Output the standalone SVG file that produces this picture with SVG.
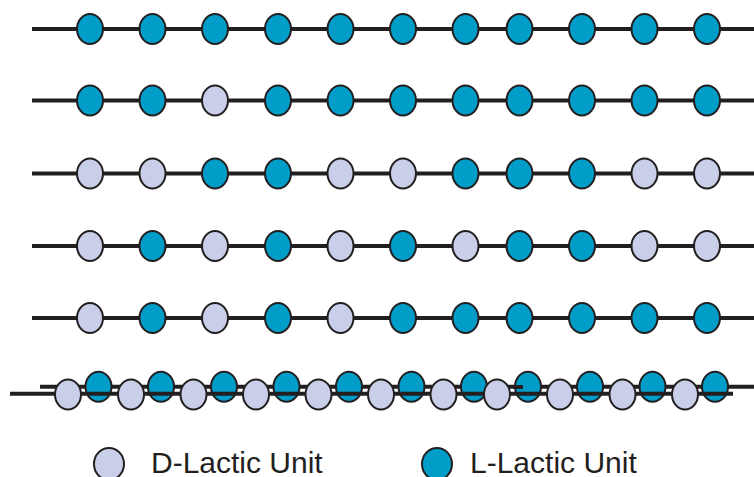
<svg xmlns="http://www.w3.org/2000/svg" width="754" height="477" viewBox="0 0 754 477">
<style>
.ln{stroke:#231f20;stroke-width:4;fill:none}
.L{fill:#009dc9;stroke:#231f20;stroke-width:2}
.D{fill:#c9cfe8;stroke:#231f20;stroke-width:2}
.t{font-family:"Liberation Sans",Arial,sans-serif;font-size:30px;fill:#231f20}
</style>
<rect width="754" height="477" fill="#ffffff"/>
<g id="connectors">
<line class="ln" x1="32" y1="29" x2="754" y2="29"/>
<line class="ln" x1="32" y1="100.5" x2="754" y2="100.5"/>
<line class="ln" x1="32" y1="173.5" x2="754" y2="173.5"/>
<line class="ln" x1="32" y1="246" x2="754" y2="246"/>
<line class="ln" x1="32" y1="318" x2="754" y2="318"/>
<line class="ln" x1="40" y1="386.8" x2="523" y2="386.8"/>
<line class="ln" x1="530" y1="386.8" x2="754" y2="386.8"/>
</g>
<g id="row1">
<g id="r1b1"><ellipse class="L" cx="90" cy="29" rx="13" ry="15"/></g>
<g id="r1b2"><ellipse class="L" cx="152.5" cy="29" rx="13" ry="15"/></g>
<g id="r1b3"><ellipse class="L" cx="215" cy="29" rx="13" ry="15"/></g>
<g id="r1b4"><ellipse class="L" cx="278" cy="29" rx="13" ry="15"/></g>
<g id="r1b5"><ellipse class="L" cx="340.5" cy="29" rx="13" ry="15"/></g>
<g id="r1b6"><ellipse class="L" cx="403" cy="29" rx="13" ry="15"/></g>
<g id="r1b7"><ellipse class="L" cx="465.5" cy="29" rx="13" ry="15"/></g>
<g id="r1b8"><ellipse class="L" cx="519.5" cy="29" rx="13" ry="15"/></g>
<g id="r1b9"><ellipse class="L" cx="582" cy="29" rx="13" ry="15"/></g>
<g id="r1b10"><ellipse class="L" cx="644.5" cy="29" rx="13" ry="15"/></g>
<g id="r1b11"><ellipse class="L" cx="707" cy="29" rx="13" ry="15"/></g>
</g>
<g id="row2">
<g id="r2b1"><ellipse class="L" cx="90" cy="100.5" rx="13" ry="15"/></g>
<g id="r2b2"><ellipse class="L" cx="152.5" cy="100.5" rx="13" ry="15"/></g>
<g id="r2b3"><ellipse class="D" cx="215" cy="100.5" rx="13" ry="15"/></g>
<g id="r2b4"><ellipse class="L" cx="278" cy="100.5" rx="13" ry="15"/></g>
<g id="r2b5"><ellipse class="L" cx="340.5" cy="100.5" rx="13" ry="15"/></g>
<g id="r2b6"><ellipse class="L" cx="403" cy="100.5" rx="13" ry="15"/></g>
<g id="r2b7"><ellipse class="L" cx="465.5" cy="100.5" rx="13" ry="15"/></g>
<g id="r2b8"><ellipse class="L" cx="519.5" cy="100.5" rx="13" ry="15"/></g>
<g id="r2b9"><ellipse class="L" cx="582" cy="100.5" rx="13" ry="15"/></g>
<g id="r2b10"><ellipse class="L" cx="644.5" cy="100.5" rx="13" ry="15"/></g>
<g id="r2b11"><ellipse class="L" cx="707" cy="100.5" rx="13" ry="15"/></g>
</g>
<g id="row3">
<g id="r3b1"><ellipse class="D" cx="90" cy="173.5" rx="13" ry="15"/></g>
<g id="r3b2"><ellipse class="D" cx="152.5" cy="173.5" rx="13" ry="15"/></g>
<g id="r3b3"><ellipse class="L" cx="215" cy="173.5" rx="13" ry="15"/></g>
<g id="r3b4"><ellipse class="L" cx="278" cy="173.5" rx="13" ry="15"/></g>
<g id="r3b5"><ellipse class="D" cx="340.5" cy="173.5" rx="13" ry="15"/></g>
<g id="r3b6"><ellipse class="D" cx="403" cy="173.5" rx="13" ry="15"/></g>
<g id="r3b7"><ellipse class="L" cx="465.5" cy="173.5" rx="13" ry="15"/></g>
<g id="r3b8"><ellipse class="L" cx="519.5" cy="173.5" rx="13" ry="15"/></g>
<g id="r3b9"><ellipse class="L" cx="582" cy="173.5" rx="13" ry="15"/></g>
<g id="r3b10"><ellipse class="D" cx="644.5" cy="173.5" rx="13" ry="15"/></g>
<g id="r3b11"><ellipse class="D" cx="707" cy="173.5" rx="13" ry="15"/></g>
</g>
<g id="row4">
<g id="r4b1"><ellipse class="D" cx="90" cy="246" rx="13" ry="15"/></g>
<g id="r4b2"><ellipse class="L" cx="152.5" cy="246" rx="13" ry="15"/></g>
<g id="r4b3"><ellipse class="D" cx="215" cy="246" rx="13" ry="15"/></g>
<g id="r4b4"><ellipse class="L" cx="278" cy="246" rx="13" ry="15"/></g>
<g id="r4b5"><ellipse class="D" cx="340.5" cy="246" rx="13" ry="15"/></g>
<g id="r4b6"><ellipse class="L" cx="403" cy="246" rx="13" ry="15"/></g>
<g id="r4b7"><ellipse class="D" cx="465.5" cy="246" rx="13" ry="15"/></g>
<g id="r4b8"><ellipse class="L" cx="519.5" cy="246" rx="13" ry="15"/></g>
<g id="r4b9"><ellipse class="L" cx="582" cy="246" rx="13" ry="15"/></g>
<g id="r4b10"><ellipse class="D" cx="644.5" cy="246" rx="13" ry="15"/></g>
<g id="r4b11"><ellipse class="D" cx="707" cy="246" rx="13" ry="15"/></g>
</g>
<g id="row5">
<g id="r5b1"><ellipse class="D" cx="90" cy="318" rx="13" ry="15"/></g>
<g id="r5b2"><ellipse class="L" cx="152.5" cy="318" rx="13" ry="15"/></g>
<g id="r5b3"><ellipse class="D" cx="215" cy="318" rx="13" ry="15"/></g>
<g id="r5b4"><ellipse class="L" cx="278" cy="318" rx="13" ry="15"/></g>
<g id="r5b5"><ellipse class="D" cx="340.5" cy="318" rx="13" ry="15"/></g>
<g id="r5b6"><ellipse class="L" cx="403" cy="318" rx="13" ry="15"/></g>
<g id="r5b7"><ellipse class="L" cx="465.5" cy="318" rx="13" ry="15"/></g>
<g id="r5b8"><ellipse class="L" cx="519.5" cy="318" rx="13" ry="15"/></g>
<g id="r5b9"><ellipse class="L" cx="582" cy="318" rx="13" ry="15"/></g>
<g id="r5b10"><ellipse class="L" cx="644.5" cy="318" rx="13" ry="15"/></g>
<g id="r5b11"><ellipse class="L" cx="707" cy="318" rx="13" ry="15"/></g>
</g>
<g id="row6-L">
<g id="r6L1"><ellipse class="L" cx="98.5" cy="386.7" rx="13" ry="15"/></g>
<g id="r6L2"><ellipse class="L" cx="161" cy="386.7" rx="13" ry="15"/></g>
<g id="r6L3"><ellipse class="L" cx="224" cy="386.7" rx="13" ry="15"/></g>
<g id="r6L4"><ellipse class="L" cx="286.5" cy="386.7" rx="13" ry="15"/></g>
<g id="r6L5"><ellipse class="L" cx="349" cy="386.7" rx="13" ry="15"/></g>
<g id="r6L6"><ellipse class="L" cx="411.5" cy="386.7" rx="13" ry="15"/></g>
<g id="r6L7"><ellipse class="L" cx="474" cy="386.7" rx="13" ry="15"/></g>
<g id="r6L8"><ellipse class="L" cx="528" cy="386.7" rx="13" ry="15"/></g>
<g id="r6L9"><ellipse class="L" cx="590" cy="386.7" rx="13" ry="15"/></g>
<g id="r6L10"><ellipse class="L" cx="652.5" cy="386.7" rx="13" ry="15"/></g>
<g id="r6L11"><ellipse class="L" cx="715" cy="386.7" rx="13" ry="15"/></g>
</g>
<g id="connectors-lower">
<line class="ln" x1="10" y1="393.8" x2="492.5" y2="393.8"/>
<line class="ln" x1="505" y1="393.8" x2="733" y2="393.8"/>
<line class="ln" x1="513" y1="387" x2="523" y2="387"/>
</g>
<g id="row6-D">
<g id="r6D1"><ellipse class="D" cx="68" cy="394.5" rx="13" ry="15"/></g>
<g id="r6D2"><ellipse class="D" cx="131" cy="394.5" rx="13" ry="15"/></g>
<g id="r6D3"><ellipse class="D" cx="193.5" cy="394.5" rx="13" ry="15"/></g>
<g id="r6D4"><ellipse class="D" cx="256" cy="394.5" rx="13" ry="15"/></g>
<g id="r6D5"><ellipse class="D" cx="318.5" cy="394.5" rx="13" ry="15"/></g>
<g id="r6D6"><ellipse class="D" cx="381" cy="394.5" rx="13" ry="15"/></g>
<g id="r6D7"><ellipse class="D" cx="443.5" cy="394.5" rx="13" ry="15"/></g>
<g id="r6D8"><ellipse class="D" cx="497" cy="394.5" rx="13" ry="15"/></g>
<g id="r6D9"><ellipse class="D" cx="560" cy="394.5" rx="13" ry="15"/></g>
<g id="r6D10"><ellipse class="D" cx="622.5" cy="394.5" rx="13" ry="15"/></g>
<g id="r6D11"><ellipse class="D" cx="685" cy="394.5" rx="13" ry="15"/></g>
</g>
<g id="legend-D">
<ellipse class="D" cx="109" cy="464" rx="15" ry="16"/>
<text class="t" x="151" y="473">D-Lactic Unit</text>
</g>
<g id="legend-L">
<ellipse class="L" cx="437" cy="464" rx="15" ry="16"/>
<text class="t" x="470" y="473">L-Lactic Unit</text>
</g>
</svg>
